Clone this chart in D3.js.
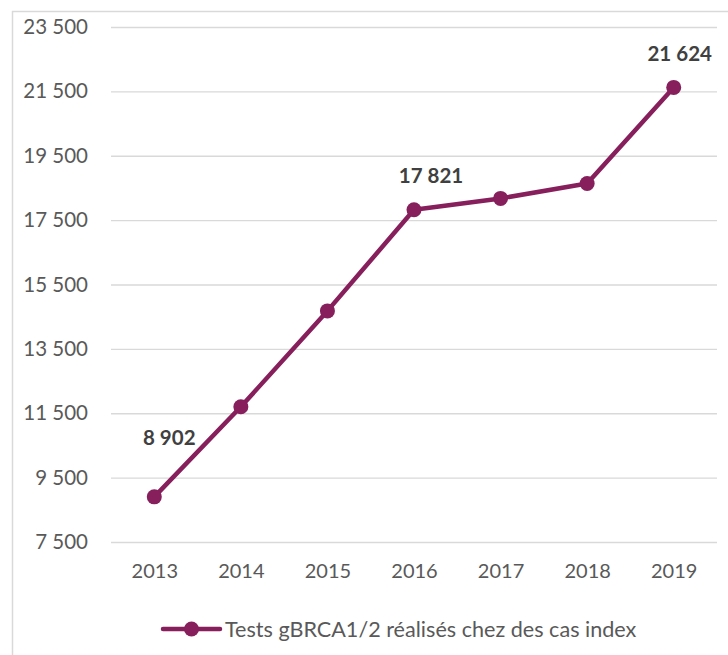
<!DOCTYPE html>
<html>
<head>
<meta charset="utf-8">
<script src="https://cdn.jsdelivr.net/npm/d3@7"></script>
<style>
  html, body { margin: 0; padding: 0; background: #fff; }
  svg { display: block; font-family: Lato, "Open Sans", sans-serif; }
</style>
</head>
<body>
<svg id="chart" width="728" height="655"></svg>
<script>
// Annual number of gBRCA1/2 tests performed on index cases
const years = ["2013", "2014", "2015", "2016", "2017", "2018", "2019"];
const tests = [8902, 11700, 14680, 17821, 18175, 18640, 21624];
const yTicks = [7500, 9500, 11500, 13500, 15500, 17500, 19500, 21500, 23500];
const labelledYears = ["2013", "2016", "2019"];
const seriesName = "Tests gBRCA1/2 réalisés chez des cas index";

const W = 728, H = 655;
const margin = { left: 111, right: 11, top: 27, bottom: 113 };
const lineColor = "#861f5c";

const svg = d3.select("#chart");

// chart frame
svg.append("path")
  .attr("d", `M12.5,${H} V11.5 H${W}`)
  .attr("fill", "none")
  .attr("stroke", "#d9d9d9")
  .attr("stroke-width", 1.5);

const x = d3.scalePoint()
  .domain(years)
  .range([margin.left, W - margin.right])
  .padding(0.5);

const y = d3.scaleLinear()
  .domain([7500, 23500])
  .range([H - margin.bottom, margin.top]);

const fmt = v => d3.format(",")(v).replace(/,/g, " ");

// horizontal gridlines with value labels
const yAxis = d3.axisLeft(y)
  .tickValues(yTicks)
  .tickSize(-(W - margin.right - margin.left))
  .tickPadding(23)
  .tickFormat(fmt);

const gy = svg.append("g")
  .attr("transform", `translate(${margin.left},0)`)
  .call(yAxis);
gy.select(".domain").remove();
gy.selectAll(".tick line").attr("stroke", "#d9d9d9").attr("stroke-width", 1.3);
gy.selectAll(".tick text")
  .attr("fill", "#595959")
  .style("font-size", "20.5px")
  .style("font-family", "Lato, sans-serif");

// year labels
const xAxis = d3.axisBottom(x).tickSize(0).tickPadding(22);
const gx = svg.append("g")
  .attr("transform", `translate(0,${y(7500)})`)
  .call(xAxis);
gx.select(".domain").remove();
gx.selectAll(".tick text")
  .attr("fill", "#595959")
  .style("font-size", "20px")
  .style("font-family", "Lato, sans-serif");

const data = years.map((yr, i) => ({ year: yr, value: tests[i] }));

const line = d3.line()
  .x(d => x(d.year))
  .y(d => y(d.value));

svg.append("path")
  .datum(data)
  .attr("d", line)
  .attr("fill", "none")
  .attr("stroke", lineColor)
  .attr("stroke-width", 4.5)
  .attr("stroke-linejoin", "round");

svg.append("g")
  .selectAll("circle")
  .data(data)
  .join("circle")
  .attr("cx", d => x(d.year))
  .attr("cy", d => y(d.value))
  .attr("r", 7.5)
  .attr("fill", lineColor);

// value labels, nudged clear of the line
const labelOffset = { "2013": [15, -52], "2016": [17, -27], "2019": [6, -26] };
svg.append("g")
  .selectAll("text")
  .data(data.filter(d => labelledYears.includes(d.year)))
  .join("text")
  .attr("x", d => x(d.year) + labelOffset[d.year][0])
  .attr("y", d => y(d.value) + labelOffset[d.year][1])
  .attr("text-anchor", "middle")
  .attr("fill", "#404040")
  .style("font-size", "20.5px")
  .style("font-weight", "bold")
  .text(d => fmt(d.value));

// legend
const lg = svg.append("g").attr("transform", "translate(163,629)");
lg.append("line")
  .attr("x1", 0).attr("x2", 57)
  .attr("stroke", lineColor).attr("stroke-width", 4.5)
  .attr("stroke-linecap", "round");
lg.append("circle").attr("cx", 28.5).attr("r", 7.5).attr("fill", lineColor);
lg.append("text")
  .attr("x", 62).attr("y", 7.5)
  .attr("fill", "#595959")
  .style("font-size", "21.6px")
  .text(seriesName);
</script>
</body>
</html>
